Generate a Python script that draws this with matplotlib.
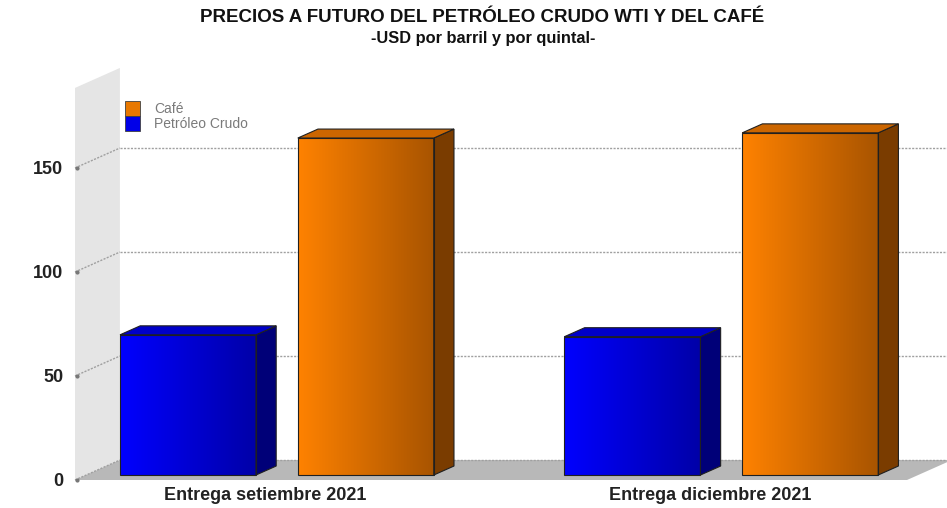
import numpy as np
import matplotlib
matplotlib.use("Agg")
from matplotlib import pyplot as plt
from matplotlib.patches import Polygon, Rectangle, Patch
from matplotlib.colors import LinearSegmentedColormap

plt.rcParams['font.family'] = ['Liberation Sans', 'DejaVu Sans']

# data
categories = ['Entrega setiembre 2021', 'Entrega diciembre 2021']
petroleo = [67.4, 66.5]
cafe = [162.0, 164.5]
yticks = [0, 50, 100, 150]

# 3d look (depth offsets in data units)
DX, DY = 0.101, 9.6
D0, D1 = 0.25, 0.70
W = 0.306
XL, XR = -0.429, 1.443
YMAX = 190
WALLTOP = 188.5

fig = plt.figure(figsize=(9.47, 5.08), dpi=100)
ax = fig.add_axes([75/947, 28/508, 832/947, 395.2/508])

# left wall and floor
ax.add_patch(Polygon([(XL, 0), (XL+DX, DY), (XL+DX, WALLTOP+DY), (XL, WALLTOP)],
                     closed=True, fc='#e5e5e5', ec='none', clip_on=False, zorder=0))
ax.add_patch(Polygon([(XL, 0), (XR, 0), (XR+DX, DY), (XL+DX, DY)],
                     closed=True, fc='#b8b8b8', ec='none', clip_on=False, zorder=0))

# grid lines on the back plane + wall diagonals
for v in yticks:
    ax.plot([XL+DX, XR+DX*3], [v+DY, v+DY], ls=(0, (1.5, 1)), lw=1, color='#a0a0a0',
            clip_on=False, zorder=1)
    ax.plot([XL, XL+DX], [v, v+DY], ls=(0, (1.5, 1)), lw=1, color='#a0a0a0',
            clip_on=False, zorder=1)
    ax.plot([XL+0.004], [v], marker='o', ms=2, color='#777777', clip_on=False, zorder=1)


def bar3d(xc, val, left, right, side, top, z):
    x0 = xc - W/2 + D0*DX
    x1 = x0 + W
    yb = D0*DY
    yt = val + D0*DY
    dx, dy = (D1-D0)*DX, (D1-D0)*DY
    cmap = LinearSegmentedColormap.from_list('g', [left, right])
    ax.imshow(np.linspace(0, 1, 256).reshape(1, -1), cmap=cmap, aspect='auto',
              extent=(x0, x1, yb, yt), zorder=z)
    ax.add_patch(Rectangle((x0, yb), W, val, fc='none', ec='#202020', lw=0.8, zorder=z+0.1))
    ax.add_patch(Polygon([(x1, yb), (x1+dx, yb+dy), (x1+dx, yt+dy), (x1, yt)],
                         closed=True, fc=side, ec='#202020', lw=0.8, zorder=z))
    ax.add_patch(Polygon([(x0, yt), (x1, yt), (x1+dx, yt+dy), (x0+dx, yt+dy)],
                         closed=True, fc=top, ec='#202020', lw=0.8, zorder=z))


for i in range(len(categories)):
    bar3d(i - 0.2, petroleo[i], '#0000ff', '#0000a8', '#000078', '#0000c8', 3)
    bar3d(i + 0.2, cafe[i], '#ff8200', '#a85400', '#7a3c00', '#cc6600', 3)

ax.set_xlim(XL, XR)
ax.set_ylim(0, YMAX)
for s in ax.spines.values():
    s.set_visible(False)
ax.set_yticks(yticks)
ax.set_yticklabels([str(v) for v in yticks], fontsize=13, fontweight='bold', color='#222222')
ax.tick_params(axis='y', length=0, pad=8.5)
ax.set_xticks(range(len(categories)))
ax.set_xticklabels(categories, fontsize=13, fontweight='bold', color='#222222')
ax.tick_params(axis='x', length=0, pad=5)

leg = ax.legend(handles=[Patch(fc='#e87800', ec='#404040', lw=0.6, label='Café'),
                         Patch(fc='#0000e8', ec='#404040', lw=0.6, label='Petróleo Crudo')],
                loc='upper left', bbox_to_anchor=(125/947, 1 - 101/508),
                bbox_transform=fig.transFigure, frameon=False, fontsize=10,
                labelcolor='#7a7a7a', handlelength=1.1, handleheight=1.25,
                labelspacing=0.0, handletextpad=1.0, borderpad=0, borderaxespad=0)

fig.text(482/947, 1 - 18/508, 'PRECIOS A FUTURO DEL PETRÓLEO CRUDO WTI Y DEL CAFÉ',
         ha='center', va='center', fontsize=13.5, fontweight='bold', color='#111111')
fig.text(483/947, 1 - 38/508, '-USD por barril y por quintal-',
         ha='center', va='center', fontsize=11.8, fontweight='bold', color='#111111')

fig.savefig('out.png', dpi=100, facecolor='white')
